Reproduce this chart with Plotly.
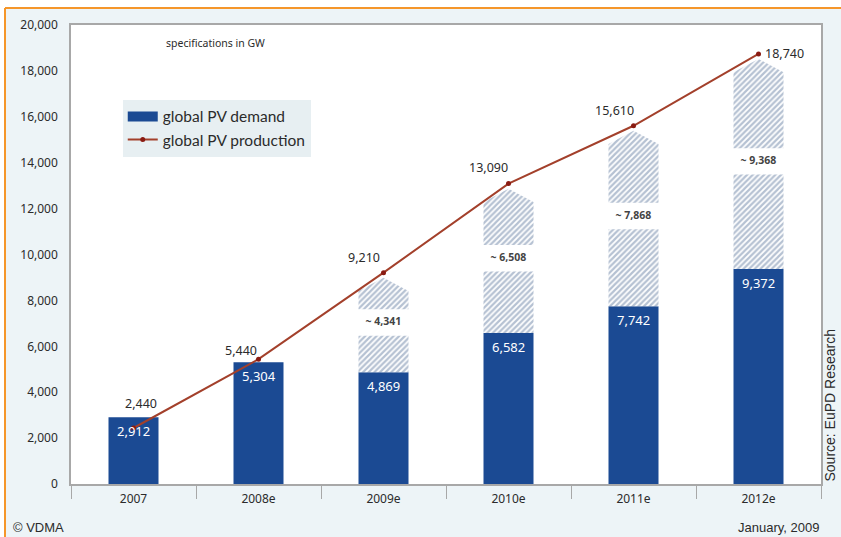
import plotly.graph_objects as go

# ---- data -------------------------------------------------------------
years = ["2007", "2008e", "2009e", "2010e", "2011e", "2012e"]
demand = [2912, 5304, 4869, 6582, 7742, 9372]          # global PV demand
production = [2440, 5440, 9210, 13090, 15610, 18740]  # global PV production
shortfall = [None, None, 4341, 6508, 7868, 9368]      # production above demand
y_ticks = [0, 2000, 4000, 6000, 8000, 10000, 12000, 14000, 16000, 18000, 20000]

# ---- style ------------------------------------------------------------
BAR_BLUE = "#1b4a93"
LINE_RED = "#a3402b"
DOT_RED = "#8a1b12"
HATCH = "#6c84a6"
AXIS_GREY = "#a8a8a8"
PAPER = "#edf4f7"
TEXT = "#2b2b2b"
HALF_W = 0.2          # half bar width in category units
GAP = 1150            # white band holding the shortfall label
TIP_OFF = 220         # arrow tip sits just below the production point
HEAD = 800            # arrow shoulders below the production point
# pixel offsets of the production value labels from their points
PROD_LABEL_SHIFT = [(7, 25), (-18, 9), (-20, 15), (-20, 16), (-19, 15), (26, 0)]

x_idx = list(range(len(years)))

fig = go.Figure()

# demand bars
fig.add_trace(go.Bar(
    x=x_idx, y=demand, width=2 * HALF_W,
    marker=dict(color=BAR_BLUE, line=dict(width=0)),
    showlegend=False, hoverinfo="skip",
))

# hatched shortfall blocks: a rectangle and an arrow-headed block per year
hx, hy, lx, ly, lt = [], [], [], [], []
for i, (d, s) in enumerate(zip(demand, shortfall)):
    if s is None:
        continue
    p = d + s
    mid = (d + p) / 2
    lo_top = mid - GAP / 2
    up_bot = mid + GAP / 2
    hx += [i - HALF_W, i + HALF_W, i + HALF_W, i - HALF_W, i - HALF_W, None]
    hy += [d, d, lo_top, lo_top, d, None]
    hx += [i - HALF_W, i + HALF_W, i + HALF_W, i, i - HALF_W, i - HALF_W, None]
    hy += [up_bot, up_bot, p - HEAD, p - TIP_OFF, p - HEAD, up_bot, None]
    lx.append(i)
    ly.append(mid)
    lt.append(f"<b>~ {s:,}</b>")

fig.add_trace(go.Scatter(
    x=hx, y=hy, mode="lines", fill="toself",
    line=dict(width=0, color=HATCH),
    fillcolor="white",
    fillpattern=dict(shape="/", fgcolor=HATCH, bgcolor="white",
                     size=4, solidity=0.55),
    showlegend=False, hoverinfo="skip",
))
fig.add_trace(go.Scatter(
    x=lx, y=ly, mode="text", text=lt,
    textfont=dict(size=10.5, color="#444444", family="Noto Sans"),
    showlegend=False, hoverinfo="skip",
))

# production line
fig.add_trace(go.Scatter(
    x=x_idx, y=production, mode="lines+markers",
    line=dict(color=LINE_RED, width=2),
    marker=dict(color=DOT_RED, size=5),
    name="global PV production", hoverinfo="skip",
))

# legend entry for the bars drawn as a wide block
fig.add_trace(go.Scatter(
    x=[None], y=[None], mode="lines",
    line=dict(color=BAR_BLUE, width=10),
    name="global PV demand",
))

# helper axis carrying the category separators
fig.add_trace(go.Scatter(x=[None], y=[None], xaxis="x2", showlegend=False,
                         hoverinfo="skip"))

# value labels
for i, v in enumerate(demand):
    fig.add_annotation(x=i, y=v, text=f"{v:,}", showarrow=False,
                       xanchor="center", yanchor="middle", yshift=-14,
                       font=dict(color="white", size=13, family="Noto Sans"))
for i, v in enumerate(production):
    dx, dy = PROD_LABEL_SHIFT[i]
    fig.add_annotation(x=i, y=v, text=f"{v:,}", showarrow=False,
                       xanchor="center", yanchor="middle",
                       xshift=dx, yshift=dy,
                       font=dict(color=TEXT, size=12.5, family="Noto Sans"))

x_range = [-0.5, len(years) - 0.5]
fig.update_layout(
    width=841, height=537, autosize=False,
    margin=dict(l=71, r=20, t=25, b=53),
    paper_bgcolor=PAPER, plot_bgcolor="white",
    font=dict(family="Noto Sans", color=TEXT, size=12),
    xaxis=dict(range=x_range, tickvals=x_idx, ticktext=years,
               ticks="", showgrid=False, zeroline=False,
               showline=True, linecolor=AXIS_GREY, linewidth=1.5, mirror=True,
               tickfont=dict(size=12, family="Noto Sans", color=TEXT),
               ticklabelstandoff=3, fixedrange=True),
    xaxis2=dict(range=x_range, overlaying="x", side="bottom",
                tickvals=[v - 0.5 for v in range(len(years) + 1)],
                ticks="outside", ticklen=14, tickwidth=1.2,
                tickcolor=AXIS_GREY, showticklabels=False,
                showgrid=False, zeroline=False, showline=False),
    yaxis=dict(range=[0, 20000], tickvals=y_ticks, tickformat=",",
               ticks="", showgrid=False, zeroline=False,
               showline=True, linecolor=AXIS_GREY, linewidth=1.5, mirror=True,
               tickfont=dict(size=12, family="Noto Sans", color=TEXT),
               ticklabelstandoff=9, fixedrange=True),
    legend=dict(x=0.069, y=0.837, xanchor="left", yanchor="top",
                bgcolor="#e7eff2", borderwidth=0,
                font=dict(size=15.5, family="Lato", color=TEXT),
                itemwidth=30, tracegroupgap=0, traceorder="reversed"),
    showlegend=True,
)

# frame: white margin strips and the orange rule
fig.add_shape(type="rect", xref="paper", yref="paper",
              x0=-0.2, x1=1.1, y0=1.037, y1=1.1,
              fillcolor="white", line=dict(width=0))
fig.add_shape(type="rect", xref="paper", yref="paper",
              x0=-0.2, x1=-0.088, y0=-0.2, y1=1.1,
              fillcolor="white", line=dict(width=0))
fig.add_shape(type="line", xref="paper", yref="paper",
              x0=-0.088, x1=1.1, y0=1.037, y1=1.037,
              line=dict(color="#f5962a", width=2))
fig.add_shape(type="line", xref="paper", yref="paper",
              x0=-0.088, x1=-0.088, y0=-0.2, y1=1.037,
              line=dict(color="#f5962a", width=2))

fig.add_annotation(text="specifications in GW", xref="paper", yref="paper",
                   x=0.192, y=0.961, xanchor="center", yanchor="middle",
                   showarrow=False,
                   font=dict(size=10.5, family="Noto Sans", color=TEXT))
fig.add_annotation(text="Source: EuPD Research", xref="paper", yref="paper",
                   x=1.0107, y=0, xanchor="center", yanchor="bottom",
                   textangle=-90, showarrow=False,
                   font=dict(size=14, family="Liberation Sans", color=TEXT))
fig.add_annotation(text="© VDMA", xref="paper", yref="paper",
                   x=-0.08, y=-0.0937, xanchor="left", yanchor="middle",
                   showarrow=False,
                   font=dict(size=13, family="Liberation Sans", color=TEXT))
fig.add_annotation(text="January, 2009", xref="paper", yref="paper",
                   x=1.0, y=-0.0937, xanchor="right", yanchor="middle",
                   showarrow=False,
                   font=dict(size=13, family="Liberation Sans", color=TEXT))

fig.write_html("out.html")
